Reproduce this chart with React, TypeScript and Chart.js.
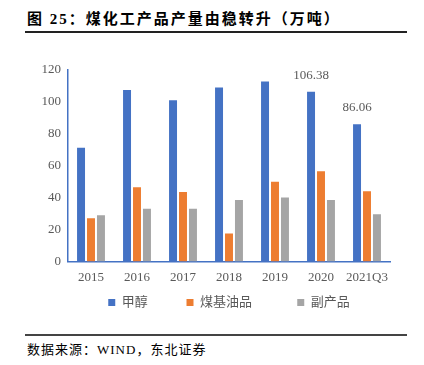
import React, { useEffect, useRef } from "react";
import { Chart, registerables } from "chart.js";

Chart.register(...registerables);

const categories = ["2015", "2016", "2017", "2018", "2019", "2020", "2021Q3"];
const methanol = [71.2, 107.5, 101, 109, 112.8, 106.38, 86.06];
const coalOil = [27, 46.5, 43.5, 17.5, 50, 56.5, 44];
const byProducts = [29, 33, 33, 38.5, 40, 38.5, 29.5];
const labeledIndexes = [5, 6];
const seriesNames = ["甲醇", "煤基油品", "副产品"];
const legendGaps = [11, 13, 0];
const yTicks = { min: 0, max: 120, step: 20 };

const serif = "'Liberation Serif', 'Noto Sans CJK SC', serif";

const labelPlugin = {
  id: "barLabels",
  afterDatasetsDraw(chart: any) {
    const ctx = chart.ctx;
    const meta = chart.getDatasetMeta(0);
    ctx.save();
    ctx.font = "13px " + serif;
    ctx.fillStyle = "#595959";
    ctx.textAlign = "center";
    ctx.textBaseline = "bottom";
    labeledIndexes.forEach((i) => {
      const el = meta.data[i];
      ctx.fillText(String(methanol[i]), el.x, el.y - 10);
    });
    ctx.restore();
  },
};

export default function App() {
  const ref = useRef<HTMLCanvasElement>(null);
  useEffect(() => {
    if (!ref.current) return;
    const chart = new Chart(ref.current, {
      type: "bar",
      data: {
        labels: categories,
        datasets: [
          { label: seriesNames[0], data: methanol, backgroundColor: "#4472C4" },
          { label: seriesNames[1], data: coalOil, backgroundColor: "#ED7D31" },
          { label: seriesNames[2], data: byProducts, backgroundColor: "#A5A5A5" },
        ],
      },
      options: {
        responsive: false,
        animation: false,
        datasets: { bar: { categoryPercentage: 0.65, barPercentage: 0.8 } },
        layout: { padding: { left: 0, right: 17, top: 30, bottom: 8 } },
        plugins: {
          tooltip: { enabled: false },
          legend: {
            position: "bottom",
            fullSize: false,
            labels: {
              boxWidth: 7,
              boxHeight: 7,
              padding: 3,
              color: "#595959",
              font: { size: 13, family: serif },
              generateLabels: (c: any) => {
                const base = Chart.defaults.plugins.legend.labels.generateLabels(c);
                return base.map((item: any, i: number) => ({
                  ...item,
                  text: item.text + " ".repeat(legendGaps[i]),
                  lineWidth: 0,
                }));
              },
            },
          },
        },
        scales: {
          x: {
            grid: { display: false, drawTicks: false },
            border: { color: "#4472C4", width: 1.5 },
            ticks: { color: "#595959", padding: 8, font: { size: 13, family: serif }, maxRotation: 0 },
          },
          y: {
            min: yTicks.min,
            max: yTicks.max,
            afterFit: (s: any) => { s.width = 43; },
            grid: { display: false, drawTicks: false },
            border: { color: "#4472C4", width: 1.5 },
            ticks: { stepSize: yTicks.step, color: "#595959", padding: 7, font: { size: 13, family: serif } },
          },
        },
      },
      plugins: [labelPlugin],
    });
    return () => chart.destroy();
  }, []);

  return (
    <div style={{ position: "absolute", left: 0, top: 0, width: 424, height: 365, background: "#fff" }}>
      <div
        style={{
          position: "absolute",
          left: 27,
          top: 9,
          fontFamily: serif,
          fontWeight: "bold",
          fontSize: 15,
          letterSpacing: 2,
          color: "#000",
          whiteSpace: "nowrap",
          lineHeight: "20px",
        }}
      >
        图 25：煤化工产品产量由稳转升（万吨）
      </div>
      <div style={{ position: "absolute", left: 25, top: 31, width: 382, height: 2, background: "#222" }} />
      <canvas ref={ref} width={382} height={287} style={{ position: "absolute", left: 25, top: 40 }} />
      <div style={{ position: "absolute", left: 25, top: 334, width: 382, height: 1.5, background: "#444" }} />
      <div
        style={{
          position: "absolute",
          left: 27,
          top: 341,
          fontFamily: serif,
          fontSize: 13,
          letterSpacing: 1,
          color: "#000",
          whiteSpace: "nowrap",
          lineHeight: "18px",
        }}
      >
        数据来源：WIND，东北证券
      </div>
    </div>
  );
}
